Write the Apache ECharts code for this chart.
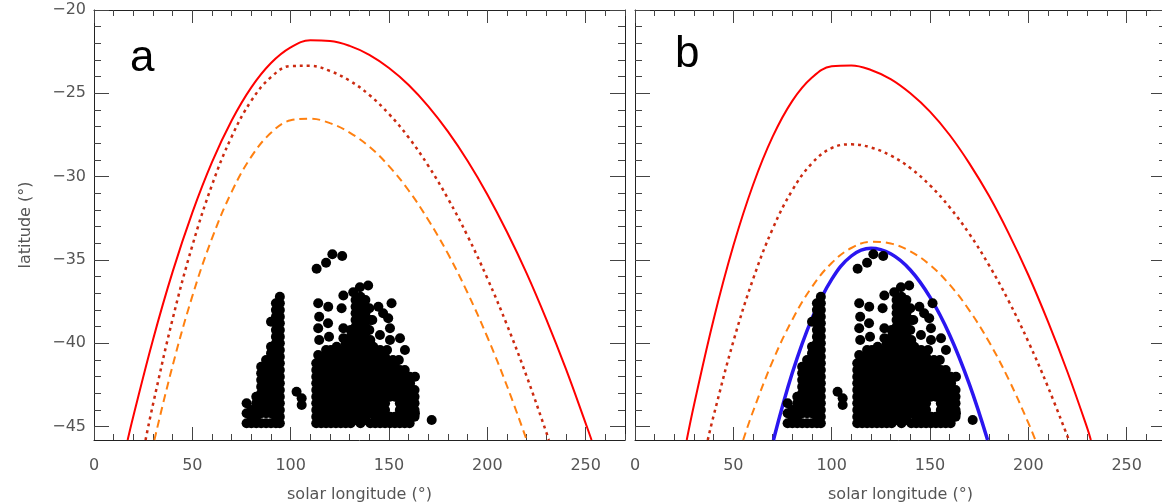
<!DOCTYPE html>
<html>
<head>
<meta charset="utf-8">
<title>latitude vs solar longitude</title>
<script src="https://cdn.jsdelivr.net/npm/echarts@6/dist/echarts.min.js"></script>
<style>
  html, body { margin: 0; padding: 0; background: #fff; }
  #chart { width: 1162px; height: 504px; }
</style>
</head>
<body>
<div id="chart"></div>
<script>
// axis ranges and tick labels
const lonRange = [0, 270];
const latRange = [-45.8, -20];
const lonTicks = [0, 50, 100, 150, 200, 250];
const latTicks = [-45, -40, -35, -30, -25, -20];

// panel a curves: [solar longitude, latitude]
const redA = [[17.1,-45.8],[20,-44.37],[30,-39.78],[40,-35.7],[50,-32.16],[60,-29.13],[70,-26.63],[80,-24.64],[90,-23.18],[100,-22.24],[110,-21.82],[120,-21.86],[130,-22.15],[140,-22.69],[150,-23.48],[160,-24.5],[170,-25.78],[180,-27.3],[190,-29.06],[200,-31.07],[210,-33.32],[220,-35.8],[230,-38.56],[240,-41.55],[250,-44.8],[253,-45.8]];
const dotA = [[26.2,-45.8],[30,-43.66],[40,-38.53],[50,-34.14],[60,-30.5],[70,-27.6],[80,-25.44],[90,-24.03],[100,-23.36],[110,-23.35],[120,-23.66],[130,-24.24],[140,-25.1],[150,-26.24],[160,-27.65],[170,-29.35],[180,-31.32],[190,-33.57],[200,-36.1],[210,-38.9],[220,-41.98],[230,-45.34],[231.3,-45.8]];
const orangeA = [[30.7,-45.8],[40,-41.33],[50,-37.17],[60,-33.7],[70,-30.91],[80,-28.8],[90,-27.37],[100,-26.62],[110,-26.52],[120,-26.79],[130,-27.36],[140,-28.2],[150,-29.37],[160,-30.83],[170,-32.6],[180,-34.63],[190,-36.98],[200,-39.62],[210,-42.56],[220,-45.8]];

// panel b curves
const redB = [[26.3,-45.8],[30,-43.7],[40,-38.55],[50,-34.15],[60,-30.5],[70,-27.6],[80,-25.45],[90,-24.05],[100,-23.38],[110,-23.33],[120,-23.6],[130,-24.15],[140,-25.0],[150,-26.1],[160,-27.5],[170,-29.2],[180,-31.15],[190,-33.4],[200,-35.9],[210,-38.7],[220,-41.75],[230,-45.1],[231.8,-45.8]];
const dotB = [[37,-45.8],[40,-44.33],[50,-39.89],[60,-36.16],[70,-33.13],[80,-30.81],[90,-29.19],[100,-28.28],[110,-28.06],[120,-28.25],[130,-28.73],[140,-29.48],[150,-30.52],[160,-31.84],[170,-33.43],[180,-35.31],[190,-37.46],[200,-39.9],[210,-42.62],[220.6,-45.8]];
const orangeB = [[55,-45.8],[60,-44.09],[70,-41.07],[80,-38.58],[90,-36.61],[100,-35.18],[110,-34.28],[120,-33.91],[130,-34.01],[140,-34.48],[150,-35.3],[160,-36.48],[170,-38.02],[180,-39.91],[190,-42.16],[200,-44.77],[203.6,-45.8]];
const blueB = [[70.4,-45.8],[80,-41.77],[90,-38.5],[100,-36.16],[110,-34.76],[120,-34.3],[130,-34.63],[140,-35.6],[150,-37.23],[160,-39.5],[170,-42.45],[179.3,-45.8]];

// observed spots, grouped by longitude: [longitude, [latitudes]]
const spotColumns = [
  [77.6, [-43.6,-44.2,-44.8]],
  [80, [-44.0,-44.4,-44.8]],
  [82.5, [-43.2,-43.6,-44.0,-44.4,-44.8]],
  [85, [-41.4,-41.8,-42.2,-42.6,-43.0,-43.4,-43.8,-44.2,-44.8]],
  [87.5, [-41.0,-41.4,-41.8,-42.2,-42.6,-43.0,-43.4,-43.8,-44.2,-44.8]],
  [90, [-38.7,-40.2,-40.6,-41.0,-41.4,-41.8,-42.2,-42.6,-43.0,-43.4,-43.8,-44.2,-44.8]],
  [92.5, [-37.6,-38.0,-38.4,-38.8,-39.2,-39.6,-40.0,-40.4,-40.8,-41.2,-41.6,-42.0,-42.4,-42.8,-43.2,-43.6,-44.0,-44.4,-44.8]],
  [94.5, [-37.2,-37.6,-38.0,-38.4,-38.8,-39.2,-39.6,-40.0,-40.4,-40.8,-41.2,-41.6,-42.0,-42.4,-42.8,-43.2,-43.6,-44.0,-44.4,-44.8]],
  [113, [-41.2,-41.6,-42.0,-42.4,-42.8,-43.2,-43.6,-44.0,-44.4,-44.8]],
  [115.5, [-40.8,-41.2,-41.6,-42.0,-42.4,-42.8,-43.2,-43.6,-44.0,-44.4,-44.8]],
  [118, [-40.4,-40.8,-41.2,-41.6,-42.0,-42.4,-42.8,-43.2,-43.6,-44.0,-44.4,-44.8]],
  [120.5, [-40.4,-40.8,-41.2,-41.6,-42.0,-42.4,-42.8,-43.2,-43.6,-44.0,-44.4,-44.8]],
  [123, [-40.4,-40.8,-41.2,-41.6,-42.0,-42.4,-42.8,-43.2,-43.6,-44.0,-44.4,-44.8]],
  [125.5, [-40.4,-40.8,-41.2,-41.6,-42.0,-42.4,-42.8,-43.2,-43.6,-44.0,-44.4,-44.8]],
  [128, [-40.0,-40.4,-40.8,-41.2,-41.6,-42.0,-42.4,-42.8,-43.2,-43.6,-44.0,-44.4,-44.8]],
  [130.5, [-39.2,-39.6,-40.0,-40.4,-40.8,-41.2,-41.6,-42.0,-42.4,-42.8,-43.2,-43.6,-44.0,-44.4,-44.8]],
  [133, [-37.4,-37.8,-38.2,-38.6,-39.0,-39.4,-39.8,-40.2,-40.6,-41.0,-41.4,-41.8,-42.2,-42.6,-43.0,-43.4,-43.8,-44.2,-44.6]],
  [135.5, [-37.2,-37.6,-38.0,-38.4,-38.8,-39.2,-39.6,-40.0,-40.4,-40.8,-41.2,-41.6,-42.0,-42.4,-42.8,-43.2,-43.6,-44.0,-44.4,-44.8]],
  [138, [-37.4,-37.8,-38.2,-38.6,-39.0,-39.4,-39.8,-40.2,-40.6,-41.0,-41.4,-41.8,-42.2,-42.6,-43.0,-43.4,-43.8,-44.2,-44.6]],
  [140.5, [-38.6,-39.8,-40.2,-40.6,-41.0,-41.4,-41.8,-42.2,-42.6,-43.0,-43.4,-43.8,-44.2,-44.8]],
  [143, [-40.4,-40.8,-41.2,-41.6,-42.0,-42.4,-42.8,-43.2,-43.6,-44.0,-44.4,-44.8]],
  [145.5, [-40.4,-40.8,-41.2,-41.6,-42.0,-42.4,-42.8,-43.2,-43.6,-44.0,-44.4,-44.8]],
  [148, [-40.8,-41.2,-41.6,-42.0,-42.4,-42.8,-43.2,-43.6,-44.0,-44.4,-44.8]],
  [150.5, [-41.2,-41.6,-42.0,-42.4,-42.8,-43.2,-44.4,-44.8]],
  [153, [-41.2,-41.6,-42.0,-42.4,-42.8,-43.2,-44.4,-44.8]],
  [155.5, [-41.6,-42.0,-42.4,-42.8,-43.2,-43.6,-44.0,-44.4,-44.8]],
  [158, [-41.6,-42.0,-42.4,-42.8,-43.2,-43.6,-44.0,-44.4,-44.8]],
  [160.5, [-42.0,-42.4,-42.8,-43.2,-43.6,-44.0,-44.4,-44.8]],
  [163, [-42.8,-43.2,-43.6,-44.0,-44.4]]
];
// scattered spots above the dense part
const spotSingles = [
  [103,-42.9],[105.6,-43.3],[105.6,-43.7],
  [113.2,-35.52],[118,-35.16],[121.2,-34.66],[126.2,-34.76],
  [126.8,-37.13],[131.8,-36.93],[135.2,-36.63],[139.4,-36.53],
  [114,-37.6],[119.1,-37.8],[125.9,-37.9],
  [140,-37.9],[141.5,-38.6],[140,-39.2],
  [144.6,-37.8],[151.3,-37.6],[149.6,-38.5],[147,-38.2],
  [114.5,-38.4],[114,-39.1],[114.5,-39.8],[114,-40.7],
  [119,-38.8],[119.5,-39.6],
  [126.8,-39.1],[126.8,-39.7],
  [145.4,-39.5],[150.5,-39.1],[150.5,-39.8],
  [155.6,-39.7],[158.1,-40.4],[142,-40.2],[123.4,-40.2],
  [149,-40.4],[152,-41.0],[155,-41.0],
  [157.3,-41.7],[163.2,-42.0],[160.7,-42.4],
  [162.4,-43.4],[163.2,-44.2],[171.7,-44.6]
];

const spots = [];
spotColumns.forEach(([lon, lats]) => lats.forEach((lat) => spots.push([lon, lat])));
spotSingles.forEach((p) => spots.push(p));

const axisColor = '#222';
const tickColor = '#444';
const labelColor = '#555';
const fontFamily = 'DejaVu Sans';

const steps = (lo, hi, step) => {
  const v = [];
  for (let x = lo; x <= hi + 1e-9; x += step) v.push(Math.round(x * 100) / 100);
  return v;
};
const lonMinor = steps(0, 270, 10);
const latMinor = steps(-45, -20, 1);

const minusFmt = (v) => String(v).replace('-', '\u2212');

const gridLefts = [94, 635];
const plotWidth = 531;

// four sides per grid, each side = line+minor ticks axis and a major tick axis
function xAxesFor(g) {
  const out = [];
  ['bottom', 'top'].forEach((pos) => {
    out.push({
      type: 'value', gridIndex: g, position: pos,
      min: lonRange[0], max: lonRange[1],
      splitLine: { show: false },
      axisLine: { show: true, onZero: false, lineStyle: { color: axisColor, width: 1 } },
      axisTick: { show: true, inside: true, length: 6, customValues: lonMinor, lineStyle: { color: tickColor } },
      axisLabel: pos === 'bottom'
        ? { show: true, customValues: lonTicks, margin: 18, color: labelColor, fontSize: 16, fontFamily: fontFamily }
        : { show: false },
      name: pos === 'bottom' ? 'solar longitude (°)' : '',
      nameLocation: 'middle', nameGap: 47,
      nameTextStyle: { color: labelColor, fontSize: 16, fontFamily: fontFamily }
    });
    out.push({
      type: 'value', gridIndex: g, position: pos,
      min: lonRange[0], max: lonRange[1],
      splitLine: { show: false },
      axisLine: { show: false, onZero: false },
      axisTick: { show: true, inside: true, length: 13, customValues: lonTicks, lineStyle: { color: tickColor } },
      axisLabel: { show: false }
    });
  });
  return out;
}

function yAxesFor(g) {
  const out = [];
  ['left', 'right'].forEach((pos) => {
    const labelled = pos === 'left' && g === 0;
    out.push({
      type: 'value', gridIndex: g, position: pos,
      min: latRange[0], max: latRange[1],
      splitLine: { show: false },
      axisLine: { show: true, onZero: false, lineStyle: { color: axisColor, width: 1 } },
      axisTick: { show: true, inside: true, length: 7, customValues: latMinor, lineStyle: { color: tickColor } },
      axisLabel: labelled
        ? { show: true, customValues: latTicks, margin: 8, padding: [6, 0, 0, 0], color: labelColor, fontSize: 16, fontFamily: fontFamily, formatter: minusFmt }
        : { show: false },
      name: labelled ? 'latitude (°)' : '',
      nameLocation: 'middle', nameGap: 60,
      nameTextStyle: { color: labelColor, fontSize: 16, fontFamily: fontFamily }
    });
    out.push({
      type: 'value', gridIndex: g, position: pos,
      min: latRange[0], max: latRange[1],
      splitLine: { show: false },
      axisLine: { show: false, onZero: false },
      axisTick: { show: true, inside: true, length: 15, customValues: latTicks, lineStyle: { color: tickColor } },
      axisLabel: { show: false }
    });
  });
  return out;
}

function curve(data, g, color, width, type) {
  return {
    type: 'line', data: data, xAxisIndex: g * 4, yAxisIndex: g * 4,
    showSymbol: false, smooth: 0.4, clip: true, z: 2,
    lineStyle: { color: color, width: width, type: type }
  };
}

function spotSeries(g) {
  return {
    type: 'scatter', data: spots, xAxisIndex: g * 4, yAxisIndex: g * 4,
    symbol: 'circle', symbolSize: 10, z: 3,
    itemStyle: { color: '#000', opacity: 1, borderWidth: 0 }
  };
}

const chart = echarts.init(document.getElementById('chart'), null, { renderer: 'canvas' });

const option = {
  animation: false,
  backgroundColor: '#fff',
  grid: gridLefts.map((left) => ({
    left: left, top: 10, width: plotWidth, height: 430,
    containLabel: false, outerBoundsMode: 'none'
  })),
  xAxis: [...xAxesFor(0), ...xAxesFor(1)],
  yAxis: [...yAxesFor(0), ...yAxesFor(1)],
  series: [
    spotSeries(0),
    curve(redA, 0, '#ff0000', 2, 'solid'),
    curve(dotA, 0, '#cc2a10', 2.5, [3, 4]),
    curve(orangeA, 0, '#ff8010', 2, [8, 5]),
    spotSeries(1),
    curve(redB, 1, '#ff0000', 2, 'solid'),
    curve(dotB, 1, '#cc2a10', 2.5, [3, 4]),
    curve(orangeB, 1, '#ff8010', 2, [8, 5]),
    curve(blueB, 1, '#2a16f0', 3.5, 'solid')
  ],
  graphic: [
    { type: 'text', left: 130, top: 37, style: { text: 'a', fontSize: 44, fontFamily: 'Liberation Sans', fill: '#000' } },
    { type: 'text', left: 675, top: 33, style: { text: 'b', fontSize: 44, fontFamily: 'Liberation Sans', fill: '#000' } }
  ]
};

chart.setOption(option);
</script>
</body>
</html>
